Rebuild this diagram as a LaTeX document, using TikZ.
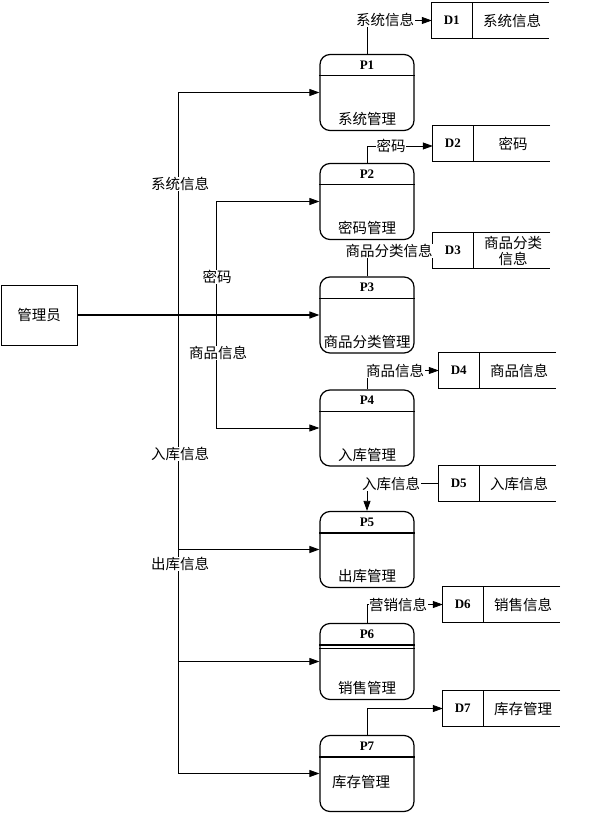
\documentclass[tikz,border=0pt]{standalone}
\usepackage{fontspec}
\setmainfont{Liberation Serif}
\newfontfamily\cjk{Noto Sans CJK SC}
\usetikzlibrary{arrows.meta}
\begin{document}
\begin{tikzpicture}[x=1pt,y=-1pt,
  proc/.style={draw, line width=1.2pt, rounded corners=10pt, minimum width=94pt, minimum height=76pt, inner sep=0pt},
  store/.style={minimum width=117pt, minimum height=35pt, inner sep=0pt},
  ext/.style={draw, line width=1pt, minimum width=76pt, minimum height=60pt, inner sep=0pt, font=\cjk\fontsize{14.5}{16}\selectfont},
  lbl/.style={font=\cjk\fontsize{14.5}{16}\selectfont, fill=white, inner sep=0.5pt},
  txt/.style={font=\cjk\fontsize{14.5}{16}\selectfont, inner sep=0pt, align=center},
  ttl/.style={font=\bfseries\fontsize{13}{14}\selectfont, inner sep=0pt},
  arr/.style={-{Triangle[length=10pt,width=7pt]}, line width=0.8pt},
  flow/.style={line width=0.8pt},
  sline/.style={line width=0.9pt}
]
\useasboundingbox (0,0) rectangle (606,826);

% external entity
\node[ext] (mgr) at (39,315) {管理员};

% processes
\node[proc] (p1) at (367,92.5) {};
\node[proc] (p2) at (367,201.5) {};
\node[proc] (p3) at (367,315) {};
\node[proc] (p4) at (367,428) {};
\node[proc] (p5) at (367,549.5) {};
\node[proc] (p6) at (367,661.5) {};
\node[proc] (p7) at (367,773.5) {};

\foreach \p/\t in {p1/P1,p2/P2,p3/P3,p4/P4,p5/P5,p6/P6,p7/P7}{
  \node[ttl] (\p t) at ([yshift=-11pt]\p.north) {\t};
  \draw[line width=1.2pt] ([yshift=-22pt]\p.north west) -- ([yshift=-22pt]\p.north east);
}
\draw[line width=1.2pt] ([yshift=-25.5pt]p6.north west) -- ([yshift=-25.5pt]p6.north east);

\node[txt] (p1x) at ([yshift=12pt]p1.south) {系统管理};
\node[txt] (p2x) at ([yshift=12pt]p2.south) {密码管理};
\node[txt] (p3x) at ([yshift=12pt]p3.south) {商品分类管理};
\node[txt] (p4x) at ([yshift=12pt]p4.south) {入库管理};
\node[txt] (p5x) at ([yshift=12pt]p5.south) {出库管理};
\node[txt] (p6x) at ([yshift=12pt]p6.south) {销售管理};
\node[txt] (p7x) at ([xshift=-6pt,yshift=-8pt]p7.center) {库存管理};

% data stores
\node[store] (d1) at (490.5,20.5) {};
\node[store] (d2) at (491.5,143.5) {};
\node[store] (d3) at (491.5,250.5) {};
\node[store] (d4) at (497.5,370.5) {};
\node[store] (d5) at (497.5,483.5) {};
\node[store] (d6) at (501.5,604.5) {};
\node[store] (d7) at (501.5,708.5) {};

\foreach \d/\l/\t in {d1/D1/系统信息,d2/D2/密码,d3/D3/{商品分类\\信息},d4/D4/商品信息,d5/D5/入库信息,d6/D6/销售信息,d7/D7/库存管理}{
  \draw[sline] (\d.north east) -- (\d.north west) -- (\d.south west) -- (\d.south east);
  \draw[sline] ([xshift=41pt]\d.north west) -- ([xshift=41pt]\d.south west);
  \node[ttl] (\d l) at ([xshift=20pt]\d.west) {\l};
  \node[txt] (\d x) at ([xshift=-37pt]\d.east) {\t};
}

% manager trunk
\coordinate (j1) at (178,315);
\coordinate (j2) at (216,315);
\draw[arr] (j1) |- (p1.west);
\draw[arr] (j2) |- (p2.west);
\draw[arr] (j2) |- (p4.west);
\draw[arr, line width=1pt] (j1) |- (p5.west);
\draw[arr] (j1) |- (p6.west);
\draw[arr] (j1) |- (p7.west);
\draw[-{Triangle[length=10pt,width=7pt]}, line width=1.5pt] (mgr.east) -- (p3.west);

\node[lbl] (l1) at (180,184) {系统信息};
\node[lbl] (l2) at (217,277) {密码};
\node[lbl] (l3) at (218,353) {商品信息};
\node[lbl] (l4) at (180,454) {入库信息};
\node[lbl] (l5) at (180,564) {出库信息};

% process to store flows
\draw[arr] (p1.north) |- (d1.west);
\node[lbl] (f1) at (385,20) {系统信息};
\draw[arr] (p2.north) |- ([yshift=-2.5pt]d2.west);
\node[lbl] (f2) at (391,146) {密码};
\draw[flow] (p3.north) |- (d3.west);
\node[lbl] (f3) at (389,251) {商品分类信息};
\draw[arr] (p4.north) |- (d4.west);
\node[lbl] (f4) at (395,371) {商品信息};
\draw[arr] (d5.west) -| (p5.north);
\node[lbl] (f5) at (391,484) {入库信息};
\draw[arr] (p6.north) |- (d6.west);
\node[lbl] (f6) at (398,605) {营销信息};
\draw[arr] (p7.north) |- (d7.west);
\end{tikzpicture}
\end{document}
